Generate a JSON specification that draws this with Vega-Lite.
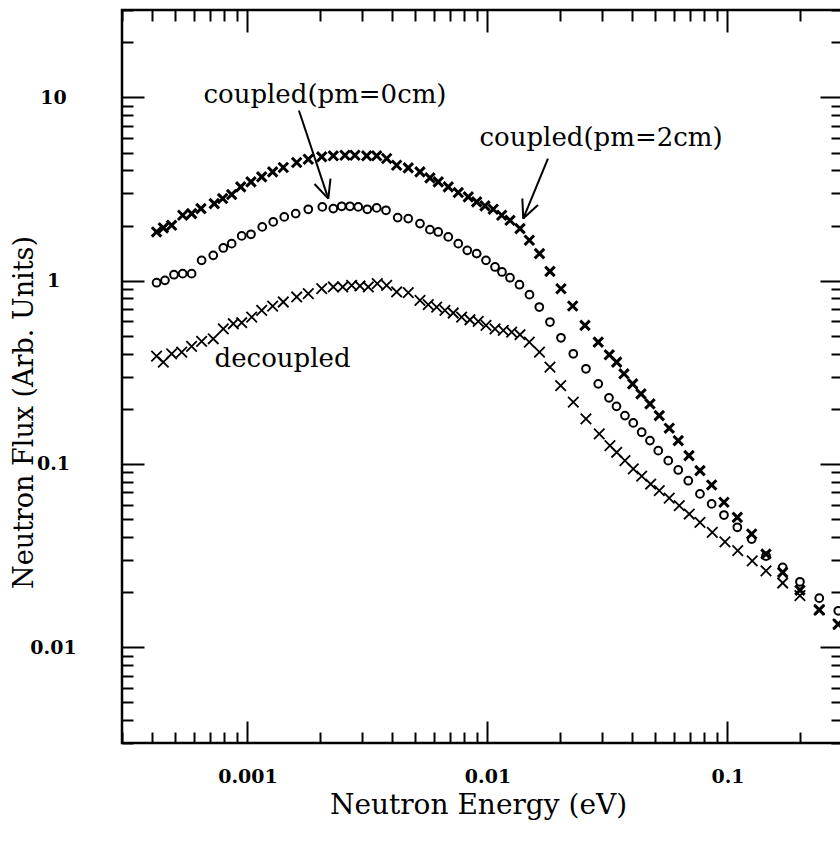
{
  "$schema": "https://vega.github.io/schema/vega-lite/v6.json",
  "width": 720,
  "height": 733,
  "autosize": "none",
  "padding": {"left": 122, "top": 10, "right": 0, "bottom": 103},
  "background": "white",
  "config": {
    "view": {"stroke": "black", "strokeWidth": 2.5},
    "font": "DejaVu Serif"
  },
  "datasets": {
    "pts": [
      {"s":"pm2","e":4.18e-4,"f":1.845},{"s":"pm2","e":4.46e-4,"f":1.941},{"s":"pm2","e":4.83e-4,"f":2.005},{"s":"pm2","e":5.37e-4,"f":2.275},{"s":"pm2","e":5.85e-4,"f":2.323},{"s":"pm2","e":6.40e-4,"f":2.474},{"s":"pm2","e":7.27e-4,"f":2.635},{"s":"pm2","e":7.88e-4,"f":2.806},{"s":"pm2","e":8.59e-4,"f":2.951},{"s":"pm2","e":9.37e-4,"f":3.251},{"s":"pm2","e":1.034e-3,"f":3.462},{"s":"pm2","e":1.146e-3,"f":3.687},{"s":"pm2","e":1.273e-3,"f":3.926},{"s":"pm2","e":1.410e-3,"f":4.145},{"s":"pm2","e":1.603e-3,"f":4.414},{"s":"pm2","e":1.792e-3,"f":4.601},{"s":"pm2","e":2.038e-3,"f":4.742},{"s":"pm2","e":2.278e-3,"f":4.802},{"s":"pm2","e":2.548e-3,"f":4.838},{"s":"pm2","e":2.803e-3,"f":4.838},{"s":"pm2","e":3.138e-3,"f":4.802},{"s":"pm2","e":3.454e-3,"f":4.802},{"s":"pm2","e":3.801e-3,"f":4.642},{"s":"pm2","e":4.183e-3,"f":4.267},{"s":"pm2","e":4.676e-3,"f":4.129},{"s":"pm2","e":5.232e-3,"f":3.926},{"s":"pm2","e":5.757e-3,"f":3.641},{"s":"pm2","e":6.235e-3,"f":3.462},{"s":"pm2","e":6.864e-3,"f":3.251},{"s":"pm2","e":7.556e-3,"f":3.026},{"s":"pm2","e":8.315e-3,"f":2.867},{"s":"pm2","e":9.013e-3,"f":2.692},{"s":"pm2","e":9.761e-3,"f":2.559},{"s":"pm2","e":1.057e-2,"f":2.453},{"s":"pm2","e":1.146e-2,"f":2.275},{"s":"pm2","e":1.241e-2,"f":2.135},{"s":"pm2","e":1.366e-2,"f":1.923},{"s":"pm2","e":1.494e-2,"f":1.661},{"s":"pm2","e":1.647e-2,"f":1.405},{"s":"pm2","e":1.821e-2,"f":1.124},{"s":"pm2","e":2.024e-2,"f":0.904},{"s":"pm2","e":2.264e-2,"f":0.727},{"s":"pm2","e":2.548e-2,"f":0.570},{"s":"pm2","e":2.894e-2,"f":0.462},{"s":"pm2","e":3.217e-2,"f":0.394},{"s":"pm2","e":3.454e-2,"f":0.3594},{"s":"pm2","e":3.704e-2,"f":0.3103},{"s":"pm2","e":4.026e-2,"f":0.2736},{"s":"pm2","e":4.361e-2,"f":0.2413},{"s":"pm2","e":4.753e-2,"f":0.2128},{"s":"pm2","e":5.197e-2,"f":0.1836},{"s":"pm2","e":5.719e-2,"f":0.1567},{"s":"pm2","e":6.235e-2,"f":0.1341},{"s":"pm2","e":6.911e-2,"f":0.1110},{"s":"pm2","e":7.679e-2,"f":0.0919},{"s":"pm2","e":8.59e-2,"f":0.0768},{"s":"pm2","e":9.667e-2,"f":0.0618},{"s":"pm2","e":0.1099,"f":0.0511},{"s":"pm2","e":0.1261,"f":0.04145},{"s":"pm2","e":0.1447,"f":0.03222},{"s":"pm2","e":0.1698,"f":0.0256},{"s":"pm2","e":0.2004,"f":0.02049},{"s":"pm2","e":0.2412,"f":0.01599},{"s":"pm2","e":0.2894,"f":0.01335},
      {"s":"pm0","e":4.18e-4,"f":0.975},{"s":"pm0","e":4.53e-4,"f":1.004},{"s":"pm0","e":4.94e-4,"f":1.078},{"s":"pm0","e":5.37e-4,"f":1.092},{"s":"pm0","e":5.85e-4,"f":1.092},{"s":"pm0","e":6.44e-4,"f":1.291},{"s":"pm0","e":7.20e-4,"f":1.375},{"s":"pm0","e":7.93e-4,"f":1.509},{"s":"pm0","e":8.59e-4,"f":1.593},{"s":"pm0","e":9.46e-4,"f":1.755},{"s":"pm0","e":1.034e-3,"f":1.791},{"s":"pm0","e":1.152e-3,"f":1.965},{"s":"pm0","e":1.280e-3,"f":2.093},{"s":"pm0","e":1.423e-3,"f":2.229},{"s":"pm0","e":1.588e-3,"f":2.323},{"s":"pm0","e":1.792e-3,"f":2.453},{"s":"pm0","e":2.050e-3,"f":2.527},{"s":"pm0","e":2.278e-3,"f":2.474},{"s":"pm0","e":2.469e-3,"f":2.547},{"s":"pm0","e":2.673e-3,"f":2.547},{"s":"pm0","e":2.894e-3,"f":2.527},{"s":"pm0","e":3.156e-3,"f":2.453},{"s":"pm0","e":3.454e-3,"f":2.496},{"s":"pm0","e":3.776e-3,"f":2.422},{"s":"pm0","e":4.224e-3,"f":2.209},{"s":"pm0","e":4.676e-3,"f":2.182},{"s":"pm0","e":5.232e-3,"f":2.049},{"s":"pm0","e":5.757e-3,"f":1.899},{"s":"pm0","e":6.235e-3,"f":1.845},{"s":"pm0","e":6.864e-3,"f":1.733},{"s":"pm0","e":7.556e-3,"f":1.593},{"s":"pm0","e":8.237e-3,"f":1.464},{"s":"pm0","e":9.013e-3,"f":1.405},{"s":"pm0","e":9.856e-3,"f":1.291},{"s":"pm0","e":1.075e-2,"f":1.188},{"s":"pm0","e":1.149e-2,"f":1.116},{"s":"pm0","e":1.241e-2,"f":1.038},{"s":"pm0","e":1.359e-2,"f":0.951},{"s":"pm0","e":1.496e-2,"f":0.839},{"s":"pm0","e":1.644e-2,"f":0.718},{"s":"pm0","e":1.821e-2,"f":0.595},{"s":"pm0","e":2.024e-2,"f":0.488},{"s":"pm0","e":2.278e-2,"f":0.3992},{"s":"pm0","e":2.572e-2,"f":0.3304},{"s":"pm0","e":2.894e-2,"f":0.2736},{"s":"pm0","e":3.208e-2,"f":0.2294},{"s":"pm0","e":3.447e-2,"f":0.2062},{"s":"pm0","e":3.739e-2,"f":0.1836},{"s":"pm0","e":4.05e-2,"f":0.1675},{"s":"pm0","e":4.39e-2,"f":0.149},{"s":"pm0","e":4.753e-2,"f":0.1341},{"s":"pm0","e":5.147e-2,"f":0.1182},{"s":"pm0","e":5.665e-2,"f":0.1042},{"s":"pm0","e":6.235e-2,"f":0.0927},{"s":"pm0","e":6.864e-2,"f":0.081},{"s":"pm0","e":7.679e-2,"f":0.0686},{"s":"pm0","e":8.59e-2,"f":0.0605},{"s":"pm0","e":9.667e-2,"f":0.0526},{"s":"pm0","e":0.1099,"f":0.0451},{"s":"pm0","e":0.1261,"f":0.0389},{"s":"pm0","e":0.1447,"f":0.03143},{"s":"pm0","e":0.1698,"f":0.02726},{"s":"pm0","e":0.2004,"f":0.02274},{"s":"pm0","e":0.2412,"f":0.01852},{"s":"pm0","e":0.2894,"f":0.0158},
      {"s":"dec","e":4.18e-4,"f":0.3878},{"s":"dec","e":4.46e-4,"f":0.3594},{"s":"dec","e":4.83e-4,"f":0.3992},{"s":"dec","e":5.32e-4,"f":0.4078},{"s":"dec","e":5.85e-4,"f":0.4375},{"s":"dec","e":6.44e-4,"f":0.4659},{"s":"dec","e":7.20e-4,"f":0.482},{"s":"dec","e":7.93e-4,"f":0.5465},{"s":"dec","e":8.73e-4,"f":0.5821},{"s":"dec","e":9.46e-4,"f":0.5895},{"s":"dec","e":1.041e-3,"f":0.6334},{"s":"dec","e":1.146e-3,"f":0.6882},{"s":"dec","e":1.273e-3,"f":0.727},{"s":"dec","e":1.410e-3,"f":0.765},{"s":"dec","e":1.603e-3,"f":0.8147},{"s":"dec","e":1.792e-3,"f":0.8492},{"s":"dec","e":2.038e-3,"f":0.904},{"s":"dec","e":2.278e-3,"f":0.9238},{"s":"dec","e":2.493e-3,"f":0.9238},{"s":"dec","e":2.717e-3,"f":0.9426},{"s":"dec","e":2.942e-3,"f":0.9355},{"s":"dec","e":3.186e-3,"f":0.9238},{"s":"dec","e":3.474e-3,"f":0.963},{"s":"dec","e":3.801e-3,"f":0.9426},{"s":"dec","e":4.183e-3,"f":0.8675},{"s":"dec","e":4.676e-3,"f":0.8604},{"s":"dec","e":5.232e-3,"f":0.7806},{"s":"dec","e":5.665e-3,"f":0.7392},{"s":"dec","e":6.141e-3,"f":0.718},{"s":"dec","e":6.649e-3,"f":0.6882},{"s":"dec","e":7.20e-3,"f":0.6663},{"s":"dec","e":7.80e-3,"f":0.6334},{"s":"dec","e":8.45e-3,"f":0.6121},{"s":"dec","e":9.153e-3,"f":0.5993},{"s":"dec","e":9.856e-3,"f":0.5698},{"s":"dec","e":1.075e-2,"f":0.5465},{"s":"dec","e":1.164e-2,"f":0.5352},{"s":"dec","e":1.261e-2,"f":0.5245},{"s":"dec","e":1.366e-2,"f":0.507},{"s":"dec","e":1.494e-2,"f":0.462},{"s":"dec","e":1.647e-2,"f":0.4078},{"s":"dec","e":1.821e-2,"f":0.3376},{"s":"dec","e":2.018e-2,"f":0.2678},{"s":"dec","e":2.278e-2,"f":0.2174},{"s":"dec","e":2.572e-2,"f":0.1762},{"s":"dec","e":2.922e-2,"f":0.1459},{"s":"dec","e":3.238e-2,"f":0.1259},{"s":"dec","e":3.454e-2,"f":0.1158},{"s":"dec","e":3.739e-2,"f":0.1042},{"s":"dec","e":4.05e-2,"f":0.0939},{"s":"dec","e":4.39e-2,"f":0.0857},{"s":"dec","e":4.786e-2,"f":0.0777},{"s":"dec","e":5.197e-2,"f":0.0715},{"s":"dec","e":5.719e-2,"f":0.065},{"s":"dec","e":6.296e-2,"f":0.0592},{"s":"dec","e":6.93e-2,"f":0.0533},{"s":"dec","e":7.679e-2,"f":0.048},{"s":"dec","e":8.643e-2,"f":0.0423},{"s":"dec","e":9.76e-2,"f":0.0376},{"s":"dec","e":0.1103,"f":0.0336},{"s":"dec","e":0.1268,"f":0.0296},{"s":"dec","e":0.1447,"f":0.0261},{"s":"dec","e":0.1698,"f":0.0224},{"s":"dec","e":0.2004,"f":0.0191},{"s":"dec","e":0.2412,"f":0.01599},{"s":"dec","e":0.2894,"f":0.01335}
    ],
    "arrows": [
      {"e1":0.001638,"f1":8.49,"e2":0.002171,"f2":2.806},
      {"e1":0.002217,"f1":3.604,"e2":0.002171,"f2":2.806},
      {"e1":0.001902,"f1":3.368,"e2":0.002171,"f2":2.806},
      {"e1":0.01786,"f1":4.642,"e2":0.01409,"f2":2.182},
      {"e1":0.01623,"f1":2.585,"e2":0.01409,"f2":2.182},
      {"e1":0.01397,"f1":2.806,"e2":0.01409,"f2":2.182}
    ],
    "notes": [
      {"e":0.002103,"f":10.25,"t":"coupled(pm=0cm)"},
      {"e":0.02972,"f":5.97,"t":"coupled(pm=2cm)"},
      {"e":0.0014,"f":0.375,"t":"decoupled"}
    ]
  },
  "resolve": {"axis": {"x": "independent", "y": "independent"}},
  "layer": [
    {
      "data": {"name": "pts"},
      "transform": [{"filter": "datum.s == 'pm2'"}],
      "mark": {"type": "point", "shape": "M-1,-1L1,1M-1,1L1,-1", "filled": false, "stroke": "black", "strokeWidth": 3, "size": 90, "opacity": 1},
      "encoding": {
        "x": {"field": "e", "type": "quantitative",
          "scale": {"type": "log", "domain": [0.0003, 0.3], "nice": false},
          "axis": {
            "orient": "bottom",
            "values": [0.0003,0.0004,0.0005,0.0006,0.0007,0.0008,0.0009,0.001,0.002,0.003,0.004,0.005,0.006,0.007,0.008,0.009,0.01,0.02,0.03,0.04,0.05,0.06,0.07,0.08,0.09,0.1,0.2,0.3],
            "labelExpr": "abs(log(datum.value)/LN10 - round(log(datum.value)/LN10)) < 0.001 ? format(datum.value, '~g') : ''",
            "tickSize": {"condition": {"test": "abs(log(datum.value)/LN10 - round(log(datum.value)/LN10)) < 0.001", "value": -22}, "value": -11},
            "tickWidth": 2, "tickColor": "black",
            "domain": false, "grid": false,
            "labelOverlap": false, "labelFlush": false, "labelBound": false,
            "labelFont": "DejaVu Serif", "labelFontSize": 19, "labelFontWeight": "bold", "labelColor": "black",
            "labelBaseline": "middle", "labelPadding": 55,
            "title": "Neutron Energy (eV)",
            "titleFont": "DejaVu Serif", "titleFontSize": 28, "titleFontWeight": "normal", "titleColor": "black",
            "titleX": 356, "titleY": 62, "titleAlign": "center", "titleBaseline": "middle"
          }
        },
        "y": {"field": "f", "type": "quantitative",
          "scale": {"type": "log", "domain": [0.003, 30], "nice": false},
          "axis": {
            "orient": "left",
            "values": [0.003,0.004,0.005,0.006,0.007,0.008,0.009,0.01,0.02,0.03,0.04,0.05,0.06,0.07,0.08,0.09,0.1,0.2,0.3,0.4,0.5,0.6,0.7,0.8,0.9,1,2,3,4,5,6,7,8,9,10,20,30],
            "labelExpr": "abs(log(datum.value)/LN10 - round(log(datum.value)/LN10)) < 0.001 ? format(datum.value, '~g') : ''",
            "tickSize": {"condition": {"test": "abs(log(datum.value)/LN10 - round(log(datum.value)/LN10)) < 0.001", "value": -22}, "value": -11},
            "tickWidth": 2, "tickColor": "black",
            "domain": false, "grid": false,
            "labelOverlap": false, "labelFlush": false, "labelBound": false,
            "labelFont": "DejaVu Serif", "labelFontSize": 19, "labelFontWeight": "bold", "labelColor": "black",
            "labelAlign": "center", "labelBaseline": "middle", "labelPadding": 91,
            "title": "Neutron Flux (Arb. Units)",
            "titleFont": "DejaVu Serif", "titleFontSize": 27, "titleFontWeight": "normal", "titleColor": "black",
            "titleAngle": -90, "titleX": -98, "titleY": 402, "titleAlign": "center", "titleBaseline": "middle"
          }
        }
      }
    },
    {
      "data": {"name": "pts"},
      "transform": [{"filter": "datum.s == 'pm0'"}],
      "mark": {"type": "point", "shape": "circle", "filled": false, "stroke": "black", "strokeWidth": 2, "size": 60, "opacity": 1},
      "encoding": {
        "x": {"field": "e", "type": "quantitative",
          "axis": {
            "orient": "top",
            "values": [0.0003,0.0004,0.0005,0.0006,0.0007,0.0008,0.0009,0.001,0.002,0.003,0.004,0.005,0.006,0.007,0.008,0.009,0.01,0.02,0.03,0.04,0.05,0.06,0.07,0.08,0.09,0.1,0.2,0.3],
            "labels": false,
            "tickSize": {"condition": {"test": "abs(log(datum.value)/LN10 - round(log(datum.value)/LN10)) < 0.001", "value": -22}, "value": -11},
            "tickWidth": 2, "tickColor": "black",
            "domain": false, "grid": false, "title": null
          }
        },
        "y": {"field": "f", "type": "quantitative",
          "axis": {
            "orient": "right",
            "values": [0.003,0.004,0.005,0.006,0.007,0.008,0.009,0.01,0.02,0.03,0.04,0.05,0.06,0.07,0.08,0.09,0.1,0.2,0.3,0.4,0.5,0.6,0.7,0.8,0.9,1,2,3,4,5,6,7,8,9,10,20,30],
            "labels": false,
            "tickSize": {"condition": {"test": "abs(log(datum.value)/LN10 - round(log(datum.value)/LN10)) < 0.001", "value": -22}, "value": -11},
            "tickWidth": 2, "tickColor": "black",
            "domain": false, "grid": false, "title": null
          }
        }
      }
    },
    {
      "data": {"name": "pts"},
      "transform": [{"filter": "datum.s == 'dec'"}],
      "mark": {"type": "point", "shape": "M-1,-1L1,1M-1,1L1,-1", "filled": false, "stroke": "black", "strokeWidth": 1.8, "size": 110, "opacity": 1},
      "encoding": {
        "x": {"field": "e", "type": "quantitative", "axis": null},
        "y": {"field": "f", "type": "quantitative", "axis": null}
      }
    },
    {
      "data": {"name": "arrows"},
      "mark": {"type": "rule", "stroke": "black", "strokeWidth": 2},
      "encoding": {
        "x": {"field": "e1", "type": "quantitative", "axis": null},
        "y": {"field": "f1", "type": "quantitative", "axis": null},
        "x2": {"field": "e2"},
        "y2": {"field": "f2"}
      }
    },
    {
      "data": {"name": "notes"},
      "mark": {"type": "text", "font": "DejaVu Serif", "fontSize": 26, "align": "center", "baseline": "middle", "color": "black"},
      "encoding": {
        "x": {"field": "e", "type": "quantitative", "axis": null},
        "y": {"field": "f", "type": "quantitative", "axis": null},
        "text": {"field": "t"}
      }
    }
  ]
}
